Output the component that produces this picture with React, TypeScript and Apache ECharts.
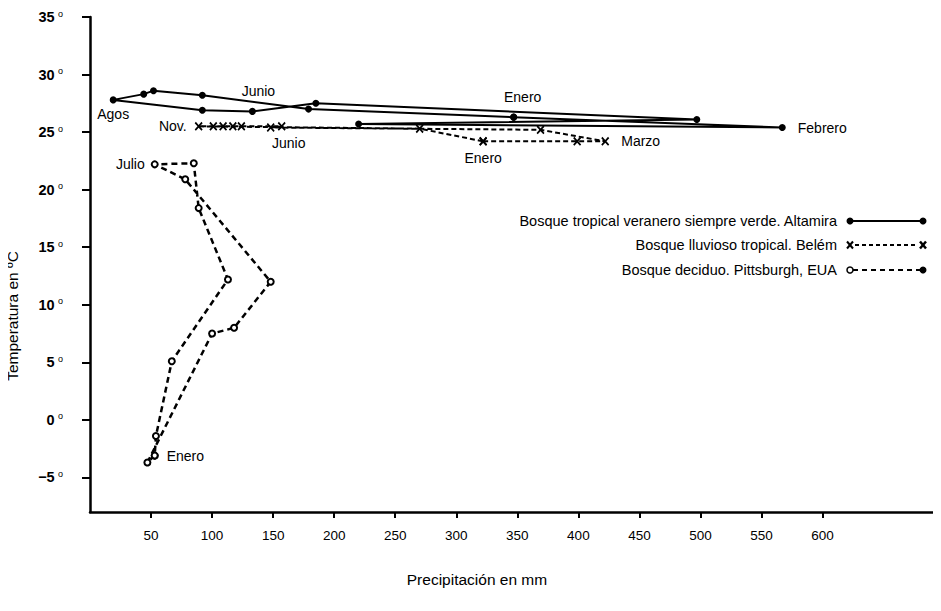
import React, { useEffect, useRef } from "react";
import * as echarts from "echarts";

// Months: Ene..Dic (index 0 = Enero)
const altamiraPrecip = [347, 567, 220, 497, 185, 133, 92, 19, 44, 52, 92, 179];
const altamiraTemp = [26.3, 25.4, 25.7, 26.1, 27.5, 26.8, 26.9, 27.8, 28.3, 28.6, 28.2, 27.0];

const belemPrecip = [322, 399, 422, 369, 148, 157, 124, 117, 109, 101, 89, 270];
const belemTemp = [24.2, 24.2, 24.2, 25.2, 25.4, 25.5, 25.5, 25.5, 25.5, 25.5, 25.5, 25.3];

const pittPrecip = [53, 47, 100, 118, 148, 78, 53, 85, 89, 113, 67, 54];
const pittTemp = [-3.1, -3.7, 7.5, 8.0, 12.0, 20.9, 22.2, 22.3, 18.4, 12.2, 5.1, -1.4];

const xTicks = [50, 100, 150, 200, 250, 300, 350, 400, 450, 500, 550, 600];
const yTicks = [-5, 0, 5, 10, 15, 20, 25, 30, 35];

const legendNames = [
  "Bosque tropical veranero siempre verde. Altamira",
  "Bosque lluvioso tropical. Belém",
  "Bosque deciduo. Pittsburgh, EUA",
];

// month index -> label config
const altamiraLabels: Record<number, any> = {
  7: { text: "Agos", position: "bottom", offset: [0, -1] },
  5: { text: "Junio", position: "top", offset: [6, -5] },
  0: { text: "Enero", position: "top", offset: [9, -5] },
  1: { text: "Febrero", position: "right", distance: 12 },
};
const belemLabels: Record<number, any> = {
  10: { text: "Nov.", position: "left", distance: 8 },
  5: { text: "Junio", position: "bottom", offset: [7, 0] },
  0: { text: "Enero", position: "bottom" },
  2: { text: "Marzo", position: "right", distance: 12 },
};
const pittLabels: Record<number, any> = {
  6: { text: "Julio", position: "left", distance: 6 },
  0: { text: "Enero", position: "right", distance: 8 },
};

const FONT = "Liberation Sans, Arial, Helvetica, sans-serif";
const xMark =
  "path://M0,1.5 L1.5,0 L5,3.5 L8.5,0 L10,1.5 L6.5,5 L10,8.5 L8.5,10 L5,6.5 L1.5,10 L0,8.5 L3.5,5 Z";

function buildLoop(px: number[], tt: number[], labels: Record<number, any>) {
  const idx = [...px.map((_, i) => i), 0];
  return idx.map((i, k) => {
    const item: any = { value: [px[i], tt[i]] };
    const l = labels[i];
    if (l && k < idx.length - 1) {
      item.label = {
        show: true,
        formatter: l.text,
        position: l.position,
        distance: l.distance ?? 5,
        offset: l.offset ?? [0, 0],
        color: "#000",
        fontSize: 14,
        fontFamily: FONT,
      };
    }
    return item;
  });
}

export default function App() {
  const ref = useRef<HTMLDivElement>(null);
  useEffect(() => {
    if (!ref.current) return;
    const chart = echarts.init(ref.current, null, { renderer: "svg" });
    const lx1 = 850;
    const lx2 = 923;
    const rows = [221, 245, 270];
    const legendGraphics: any[] = [];
    legendNames.forEach((name, i) => {
      legendGraphics.push({
        type: "text",
        style: {
          text: name,
          x: 837,
          y: rows[i],
          textAlign: "right",
          textVerticalAlign: "middle",
          fill: "#000",
          font: `14.5px ${FONT}`,
        },
      });
    });
    // row 1: solid
    legendGraphics.push(
      { type: "line", shape: { x1: lx1, y1: rows[0], x2: lx2, y2: rows[0] }, style: { stroke: "#000", lineWidth: 2 } },
      { type: "circle", shape: { cx: lx1, cy: rows[0], r: 3.5 }, style: { fill: "#000" } },
      { type: "circle", shape: { cx: lx2, cy: rows[0], r: 3.5 }, style: { fill: "#000" } }
    );
    // row 2: dashed with x marks
    legendGraphics.push(
      { type: "line", shape: { x1: lx1 + 5, y1: rows[1], x2: lx2 - 5, y2: rows[1] }, style: { stroke: "#000", lineWidth: 2, lineDash: [4, 3] } },
      { type: "line", shape: { x1: lx1 - 3, y1: rows[1] - 3.5, x2: lx1 + 3, y2: rows[1] + 3.5 }, style: { stroke: "#000", lineWidth: 2 } },
      { type: "line", shape: { x1: lx1 - 3, y1: rows[1] + 3.5, x2: lx1 + 3, y2: rows[1] - 3.5 }, style: { stroke: "#000", lineWidth: 2 } },
      { type: "line", shape: { x1: lx2 - 3, y1: rows[1] - 3.5, x2: lx2 + 3, y2: rows[1] + 3.5 }, style: { stroke: "#000", lineWidth: 2.5 } },
      { type: "line", shape: { x1: lx2 - 3, y1: rows[1] + 3.5, x2: lx2 + 3, y2: rows[1] - 3.5 }, style: { stroke: "#000", lineWidth: 2.5 } }
    );
    // row 3: dashed, open circle left, filled right
    legendGraphics.push(
      { type: "line", shape: { x1: lx1 + 3, y1: rows[2], x2: lx2, y2: rows[2] }, style: { stroke: "#000", lineWidth: 2, lineDash: [5, 4] } },
      { type: "circle", shape: { cx: lx1, cy: rows[2], r: 3 }, style: { fill: "#fff", stroke: "#000", lineWidth: 1.5 } },
      { type: "circle", shape: { cx: lx2, cy: rows[2], r: 3.5 }, style: { fill: "#000" } }
    );

    chart.setOption({
      animation: false,
      backgroundColor: "#fff",
      textStyle: { fontFamily: FONT },
      grid: { left: 90, right: 0, top: 17, bottom: 99, containLabel: false },
      xAxis: {
        type: "value",
        min: 0,
        max: 697,
        axisLine: { show: true, onZero: false, lineStyle: { color: "#000", width: 2.5 } },
        axisTick: { show: true, customValues: xTicks, length: 6, lineStyle: { color: "#000", width: 2 } },
        axisLabel: { customValues: xTicks, color: "#000", fontSize: 13.5, margin: 16, fontFamily: FONT },
        splitLine: { show: false },
      },
      yAxis: {
        type: "value",
        min: -8,
        max: 35,
        axisLine: { show: true, onZero: false, lineStyle: { color: "#000", width: 2.5 } },
        axisTick: { show: true, customValues: yTicks, length: 8, lineStyle: { color: "#000", width: 2 } },
        axisLabel: {
          customValues: yTicks,
          margin: 27,
          formatter: (v: number) => `{n|${v < 0 ? "−" + -v : v}} {d|o}`,
          rich: {
            n: { fontSize: 14.5, fontWeight: "bold", color: "#000", fontFamily: FONT },
            d: { fontSize: 9, color: "#000", fontFamily: FONT, padding: [0, 0, 7, 0] },
          },
        },
        splitLine: { show: false },
      },
      graphic: [
        ...legendGraphics,
        {
          type: "text",
          style: {
            text: "Precipitación en mm",
            x: 477,
            y: 579,
            textAlign: "center",
            textVerticalAlign: "middle",
            fill: "#000",
            font: `15.5px ${FONT}`,
          },
        },
        {
          type: "text",
          x: 12,
          y: 316,
          rotation: Math.PI / 2,
          style: {
            text: "Temperatura en ºC",
            x: 0,
            y: 0,
            textAlign: "center",
            textVerticalAlign: "middle",
            fill: "#000",
            font: `15.5px ${FONT}`,
          },
        },
      ],
      series: [
        {
          name: legendNames[0],
          type: "line",
          data: buildLoop(altamiraPrecip, altamiraTemp, altamiraLabels),
          symbol: "circle",
          symbolSize: 7,
          showAllSymbol: true,
          itemStyle: { color: "#000" },
          lineStyle: { color: "#000", width: 2 },
        },
        {
          name: legendNames[1],
          type: "line",
          data: buildLoop(belemPrecip, belemTemp, belemLabels),
          symbol: xMark,
          symbolSize: [8, 9],
          showAllSymbol: true,
          itemStyle: { color: "#000" },
          lineStyle: { color: "#000", width: 2, type: [5, 3] },
        },
        {
          name: legendNames[2],
          type: "line",
          data: buildLoop(pittPrecip, pittTemp, pittLabels),
          symbol: "emptyCircle",
          symbolSize: 6,
          showAllSymbol: true,
          itemStyle: { color: "#000", borderWidth: 1.5 },
          lineStyle: { color: "#000", width: 2.5, type: [6, 4] },
        },
      ],
    });
    return () => chart.dispose();
  }, []);
  return <div ref={ref} style={{ width: 941, height: 611, margin: -8 }} />;
}
